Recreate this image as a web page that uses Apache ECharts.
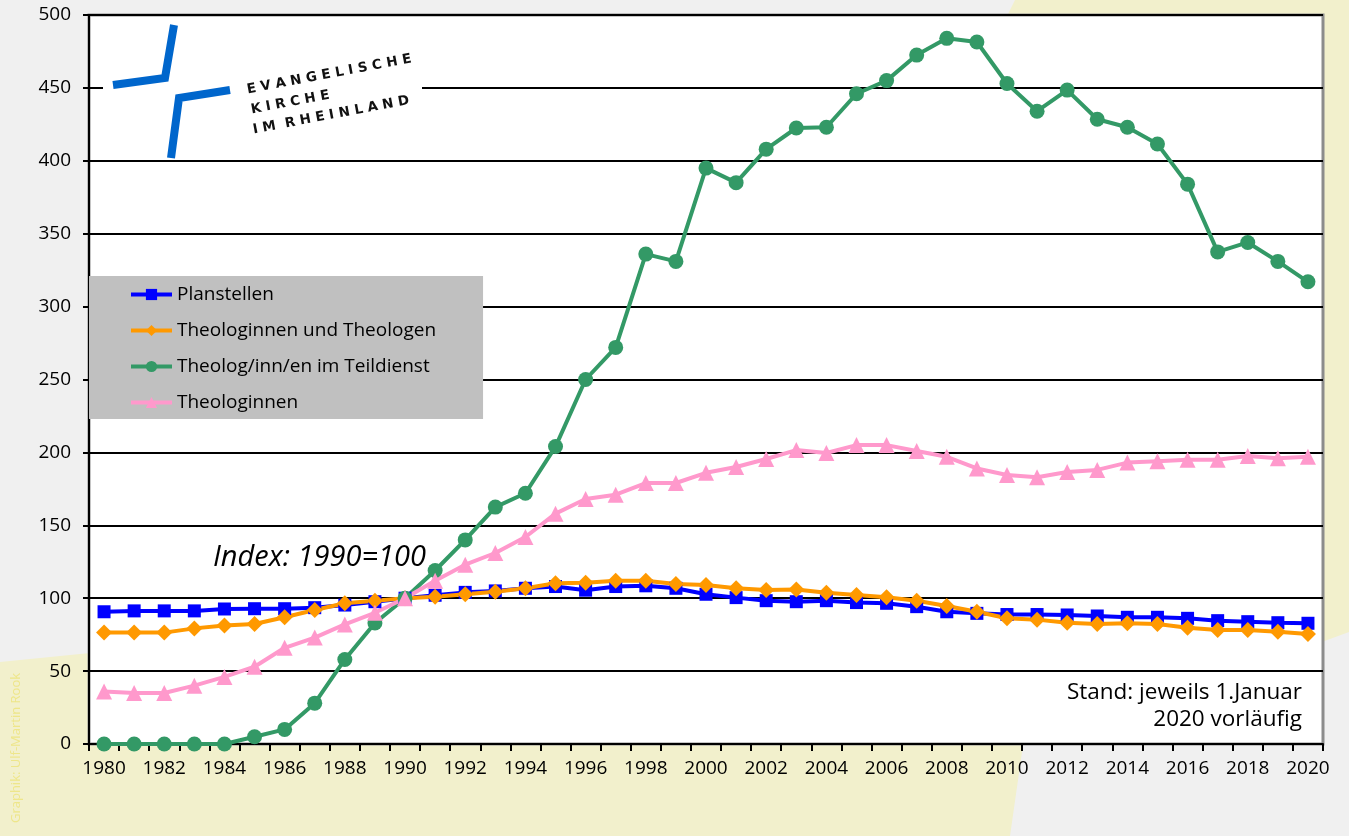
<!DOCTYPE html>
<html>
<head>
<meta charset="utf-8">
<script src="https://cdn.jsdelivr.net/npm/echarts@6/dist/echarts.min.js"></script>
<style>
  html, body { margin: 0; padding: 0; background: #f0f0f0; }
  #chart { width: 1349px; height: 836px; }
</style>
</head>
<body>
<div id="chart"></div>
<script>
// Index: 1990 = 100
const years = [];
for (let y = 1980; y <= 2020; y++) years.push(String(y));

const seriesNames = [
  'Planstellen',
  'Theologinnen und Theologen',
  'Theolog/inn/en im Teildienst',
  'Theologinnen'
];

const planstellen = [
  90.7, 91.3, 91.3, 91.3, 92.6, 92.8, 92.8, 93.5, 95.3, 97.6,
  100, 102, 104, 105, 106.8, 108, 105.5, 108, 108.5, 106.8,
  102.7, 100.4, 98.3, 97.6, 98.3, 97, 96.5, 94.2, 90.7, 89.6,
  88.8, 88.8, 88.5, 87.8, 86.9, 86.9, 86.2, 84.6, 83.9, 83.2, 82.8
];

const theologen = [
  76.4, 76.4, 76.4, 79.3, 81.2, 82.3, 86.9, 91.9, 96.5, 98.3,
  100, 101, 102.7, 104.5, 106.8, 110.2, 110.6, 112, 112, 109.7,
  109, 106.8, 105.6, 106, 103.8, 102.2, 100.6, 98.3, 94.6, 90.7,
  86.2, 85.3, 83.2, 82.3, 82.8, 82.3, 79.8, 78.2, 78.2, 77, 75.4
];

const teildienst = [
  0, 0, 0, 0, 0, 5, 10, 28, 58, 83,
  100, 119, 140, 162.5, 172, 204, 250, 272, 336, 331,
  395, 385, 408, 422.5, 423, 446, 455, 472.5, 484, 481.5,
  453, 434, 448.5, 428.5, 423, 411.5, 384, 337.5, 344, 331, 317
];

const theologinnen = [
  36, 35, 35, 40, 46, 53, 66, 73, 82, 90,
  100, 112, 123, 131, 142, 158, 168, 171, 179, 179,
  186, 190, 195.5, 201.6, 199.6, 205, 205, 201, 197, 189,
  184.5, 183, 186.5, 188, 193, 194, 195, 195, 197.5, 196, 197
];

const yTicks = { min: 0, max: 500, interval: 50 };

const FONT = '"Open Sans", Lato, sans-serif';
const chart = echarts.init(document.getElementById('chart'));

function lineSeries(name, data, color, symbol, size, width) {
  return {
    name,
    type: 'line',
    data,
    symbol,
    symbolSize: size,
    showSymbol: true,
    lineStyle: { color, width },
    itemStyle: { color },
    emphasis: { disabled: true }
  };
}

const logoRot = 10.7 * Math.PI / 180;
const logoFont = '600 13.5px "DejaVu Sans", sans-serif';

chart.setOption({
  animation: false,
  backgroundColor: '#f0f0f0',
  textStyle: { fontFamily: FONT },
  grid: {
    left: 89,
    right: 26,
    top: 15,
    bottom: 92,
    show: true,
    backgroundColor: '#ffffff',
    borderColor: '#8c8c8c',
    borderWidth: 3
  },
  legend: {
    orient: 'vertical',
    left: 89,
    top: 276,
    backgroundColor: '#c0c0c0',
    padding: [9, 47, 7, 40],
    itemGap: 17,
    itemWidth: 41,
    itemHeight: 14,
    lineStyle: { width: 4 },
    textStyle: { fontSize: 19, color: '#000', fontFamily: FONT },
    data: seriesNames
  },
  xAxis: {
    type: 'category',
    data: years,
    boundaryGap: true,
    axisLine: { lineStyle: { color: '#000', width: 2 } },
    axisTick: { show: true, interval: 0, length: 7, lineStyle: { color: '#000', width: 2 } },
    axisLabel: { interval: 1, fontSize: 19, color: '#000', margin: 15, fontFamily: FONT },
    splitLine: { show: false }
  },
  yAxis: {
    type: 'value',
    min: yTicks.min,
    max: yTicks.max,
    interval: yTicks.interval,
    axisLine: { show: true, lineStyle: { color: '#000', width: 2 } },
    axisTick: { show: true, length: 6, lineStyle: { color: '#000', width: 2 } },
    axisLabel: { fontSize: 19, color: '#000', margin: 18, fontFamily: FONT },
    splitLine: { show: true, lineStyle: { color: '#000', width: 2 } }
  },
  series: [
    lineSeries(seriesNames[0], planstellen, '#0000ff', 'rect', 13, 4),
    lineSeries(seriesNames[1], theologen, '#ff9900', 'diamond', 16, 4),
    lineSeries(seriesNames[2], teildienst, '#339966', 'circle', 15, 4),
    lineSeries(seriesNames[3], theologinnen, '#ff99cc', 'triangle', 16, 4)
  ],
  graphic: [
    // yellow background band
    {
      type: 'polygon',
      z: -5,
      silent: true,
      shape: {
        points: [
          [0, 662], [90, 653], [500, 400], [1000, 30], [1015, 0],
          [1349, 0], [1349, 632], [1300, 650], [1100, 720],
          [1023, 745], [1010, 836], [0, 836]
        ]
      },
      style: { fill: '#f2f0cc' }
    },
    // credit
    {
      type: 'text',
      z: 5,
      silent: true,
      x: 16,
      y: 748,
      rotation: Math.PI / 2,
      style: {
        text: 'Graphik: Ulf-Martin Rook',
        fill: '#eee68a',
        font: '13px ' + FONT,
        align: 'center',
        verticalAlign: 'middle'
      }
    },
    // logo
    {
      type: 'rect',
      z: 5,
      silent: true,
      shape: { x: 103, y: 20, width: 319, height: 137 },
      style: { fill: '#ffffff' }
    },
    {
      type: 'polyline',
      z: 6,
      silent: true,
      shape: { points: [[174, 25], [165, 78], [113, 85]] },
      style: { stroke: '#0066cc', lineWidth: 8, fill: null }
    },
    {
      type: 'polyline',
      z: 6,
      silent: true,
      shape: { points: [[171, 158], [179, 98], [230, 90]] },
      style: { stroke: '#0066cc', lineWidth: 8, fill: null }
    },
    {
      type: 'text', z: 6, silent: true,
      x: 247, y: 90, rotation: logoRot,
      style: { text: 'E V A N G E L I S C H E', fill: '#111', font: logoFont, verticalAlign: 'middle' }
    },
    {
      type: 'text', z: 6, silent: true,
      x: 251, y: 110, rotation: logoRot,
      style: { text: 'K I R C H E', fill: '#111', font: logoFont, verticalAlign: 'middle' }
    },
    {
      type: 'text', z: 6, silent: true,
      x: 253, y: 130, rotation: logoRot,
      style: { text: 'I M  R H E I N L A N D', fill: '#111', font: logoFont, verticalAlign: 'middle' }
    },
    // annotations
    {
      type: 'text', z: 6, silent: true,
      x: 213, y: 558,
      style: { text: 'Index: 1990=100', fill: '#000', font: 'italic 29px ' + FONT, verticalAlign: 'middle' }
    },
    {
      type: 'text', z: 6, silent: true,
      x: 1302, y: 693,
      style: { text: 'Stand: jeweils 1.Januar', fill: '#000', font: '22.5px ' + FONT, align: 'right', verticalAlign: 'middle' }
    },
    {
      type: 'text', z: 6, silent: true,
      x: 1302, y: 720,
      style: { text: '2020 vorläufig', fill: '#000', font: '22.5px ' + FONT, align: 'right', verticalAlign: 'middle' }
    }
  ]
});
</script>
</body>
</html>
